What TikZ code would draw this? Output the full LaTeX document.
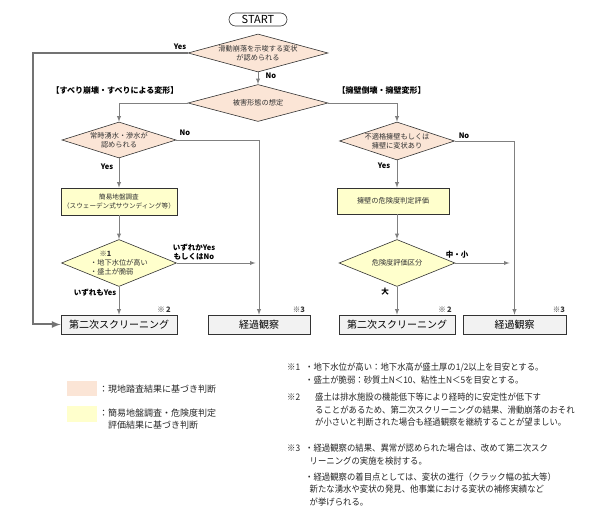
\documentclass[tikz,border=0pt]{standalone}
\usepackage{fontspec}
\setmainfont{Noto Sans CJK JP}
\newfontfamily\notefont{Noto Sans CJK JP}[FakeStretch=0.93]
\usetikzlibrary{arrows,shapes.geometric,calc}

\definecolor{peach}{RGB}{251,229,214}
\definecolor{pale}{RGB}{255,255,204}
\definecolor{boxgray}{RGB}{242,242,242}
\definecolor{wire}{RGB}{128,128,128}

\tikzset{
  dia/.style={diamond,draw=black!80,fill=peach,inner sep=0pt,line width=0.6pt},
  diay/.style={dia,fill=pale},
  dtext/.style={font=\fontsize{7.2}{9}\selectfont,text=black!80,align=center},
  proc/.style={rectangle,draw=black!80,fill=pale,line width=0.6pt,inner sep=0pt,
    font=\fontsize{7.2}{9.5}\selectfont,text=black!80,align=center},
  fin/.style={rectangle,draw=black!80,fill=boxgray,line width=0.6pt,inner sep=0pt,
    minimum width=116pt,minimum height=19pt,font=\fontsize{10}{12}\selectfont},
  yn/.style={font=\bfseries\fontsize{7.5}{9}\selectfont,align=center},
  hdr/.style={font=\bfseries\fontsize{8}{10}\selectfont},
  refmark/.style={font=\fontsize{7.5}{9}\selectfont,text=black!80},
  note/.style={anchor=west,inner sep=0pt,font=\notefont\fontsize{9}{12.5}\selectfont,text=black!85},
  wire/.style={draw=wire,line width=0.9pt,->,>=latex},
}

\begin{document}
\begin{tikzpicture}[x=1pt,y=-1pt]
  \useasboundingbox (0,0) rectangle (600,521);
  % start and the first two checks
  \node (start) at (258,19.5) [draw=black!80,line width=0.6pt,rounded corners=6.5pt,
    minimum width=58pt,minimum height=13pt,inner sep=0pt,font=\fontsize{11}{12}\selectfont] {START};
  \node (d1) at (258,53) [dia,minimum width=140pt,minimum height=38pt,
    label={[dtext]center:滑動崩落を示唆する変状\\が認められる}] {};
  \node (d2) at (258,103) [dia,minimum width=140pt,minimum height=37pt,
    label={[dtext]center:被害形態の想定}] {};

  % left branch
  \node (hl) at (115,90) [hdr] {【すべり崩壊・すべりによる変形】};
  \node (d3) at (119,140) [dia,minimum width=114pt,minimum height=36pt,
    label={[dtext]center:常時湧水・滲水が\\認められる}] {};
  \node (b1) at (119,201.5) [proc,minimum width=116pt,minimum height=27pt,
    font=\fontsize{6.6}{9.5}\selectfont] {簡易地盤調査\\（スウェーデン式サウンディング等）};
  \node (d4) at (119,263) [diay,minimum width=115pt,minimum height=47pt,
    label={[dtext,align=left]center:\hspace*{1.3em}{\bfseries ※1}\\・地下水位が高い\\・盛土が脆弱}] {};
  \node (s2l) at (119,324.5) [fin] {第二次スクリーニング};
  \node (kl) at (259,324.5) [fin,minimum width=102pt] {経過観察};

  % right branch
  \node (hr) at (381.5,90) [hdr] {【擁壁倒壊・擁壁変形】};
  \node (d5) at (397,141) [dia,minimum width=115pt,minimum height=38pt,
    label={[dtext]center:不適格擁壁もしくは\\擁壁に変状あり}] {};
  \node (b2) at (393,201) [proc,minimum width=112pt,minimum height=26pt] {擁壁の危険度判定評価};
  \node (d6) at (397,263) [diay,minimum width=116pt,minimum height=47pt,
    label={[dtext]center:危険度評価区分}] {};
  \node (s2r) at (397,324.5) [fin] {第二次スクリーニング};
  \node (kr) at (514.5,324.5) [fin,minimum width=103pt] {経過観察};

  \coordinate (yesx) at (33,53);

  % connectors
  \path
    (d1.south) edge[wire] (d2.north)
    (d3.south) edge[wire] (b1.north)
    (b1.south) edge[wire] (d4.north)
    (d4.south) edge[wire] (s2l.north)
    (d6.south) edge[wire] (s2r.north);
  \draw[wire] (d2.west) -| (d3.north);
  \draw[wire] (d3.east) -| (kl.north);
  \draw[wire,shorten >=3.5pt] (d4.east) -- (d4.east -| kl.north);
  \draw[wire] (d2.east) -| (d5.north);
  \draw[wire] (d5.east) -| (kr.north);
  \draw[wire] (d5.south) -- (d5.south |- b2.north);
  \draw[wire] (d5.south |- b2.south) -- (d6.north);
  \draw[wire,shorten >=5pt] (d6.east) -- (d6.east -| kr.north);
  \draw[wire,line width=2pt,draw=black!55] (d1.west) -- (yesx) |- (s2l.west);

  % branch labels
  \node at (180,47) [yn] {Yes};
  \node at (271,76) [yn] {No};
  \node at (185,133) [yn] {No};
  \node at (107,167) [yn] {Yes};
  \node at (194,252) [yn] {いずれかYes\\もしくはNo};
  \node at (95,293) [yn] {いずれもYes};
  \node at (464,136) [yn] {No};
  \node at (384,166) [yn] {Yes};
  \node at (457,255) [yn] {中・小};
  \node at (385,292) [yn] {大};
  \node at (164,310) [refmark] {※\,{\bfseries 2}};
  \node at (299,310) [refmark] {※{\bfseries 3}};
  \node at (445,310) [refmark] {※\,{\bfseries 2}};
  \node at (559,310) [refmark] {※{\bfseries 3}};

  % legend
  \node (lg1) at (82,388.5) [fill=peach,minimum width=30pt,minimum height=15pt,inner sep=0pt] {};
  \node (lg2) at (82,414) [fill=pale,minimum width=30pt,minimum height=16pt,inner sep=0pt] {};
  \node (lt1) at (99,389) [note,font=\fontsize{9}{12}\selectfont] {：現地踏査結果に基づき判断};
  \node (lt2) at (99,419) [note,font=\fontsize{9}{12}\selectfont,align=left]
    {：簡易地盤調査・危険度判定\\\hspace*{1em}評価結果に基づき判断};

  % notes
  \node (n1) at (287,367) [note] {※1};
  \node (n1a) at (305,367) [note] {・地下水位が高い：地下水高が盛土厚の1/2以上を目安とする。};
  \node (n1b) at (305,380.5) [note] {・盛土が脆弱：砂質土N＜10、粘性土N＜5を目安とする。};
  \node (n2) at (287,397) [note] {※2};
  \node (n2a) at (315,410) [note,align=left]
    {盛土は排水施設の機能低下等により経時的に安定性が低下す\\ることがあるため、第二次スクリーニングの結果、滑動崩落のおそれ\\が小さいと判断された場合も経過観察を継続することが望ましい。};
  \node (n3) at (287,448) [note] {※3};
  \node (n3a) at (305,454.5) [note,align=left]
    {・経過観察の結果、異常が認められた場合は、改めて第二次スク\\\hspace*{0.5em}リーニングの実施を検討する。};
  \node (n3b) at (305,489.5) [note,align=left]
    {・経過観察の着目点としては、変状の進行（クラック幅の拡大等）\\\hspace*{0.5em}新たな湧水や変状の発見、他事業における変状の補修実績など\\\hspace*{0.5em}が挙げられる。};
\end{tikzpicture}
\end{document}
